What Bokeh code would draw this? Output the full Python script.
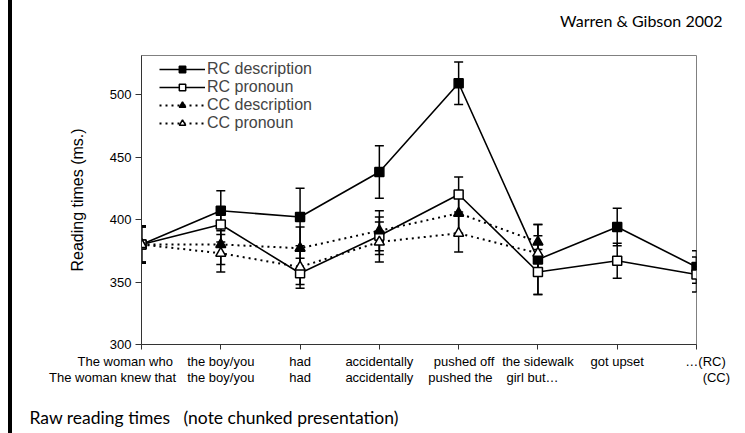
from bokeh.plotting import figure
from bokeh.models import (Range1d, FixedTicker, ColumnDataSource, Whisker, TeeHead,
                          Legend, LegendItem, Title)
from bokeh.embed import file_html
from bokeh.resources import INLINE

# ---- data ----
regions = list(range(8))
rc_labels = ["The woman who", "the boy/you", "had", "accidentally", "pushed off",
             "the sidewalk", "got upset", "\u2026(RC)"]
cc_labels = ["The woman knew that", "the boy/you", "had", "accidentally", "pushed the",
             "girl but\u2026", "", "(CC)"]

rc_desc = [380, 407, 402, 438, 509, 368, 394, 362]
rc_desc_err = [15, 16, 23, 21, 17, 28, 15, 13]
rc_pron = [380, 396, 357, 387, 420, 358, 367, 356]
rc_pron_err = [14, 14, 12, 15, 14, 18, 14, 14]
cc_desc = [380, 380, 377, 391, 405, 382]
cc_desc_err = [15, 16, 17, 16, 16, 14]
cc_pron = [380, 373, 362, 382, 389, 373]
cc_pron_err = [14, 15, 14, 16, 15, 14]

y_ticks = [300, 350, 400, 450, 500]

source_text = "Warren & Gibson 2002"
caption_text = "Raw reading times \u00a0\u00a0(note chunked presentation)"

# ---- styling ----
FONT = "Liberation Sans"
SLIDE_FONT = "Lato"
NB = "\u00a0"
# (leading, trailing) no-break-space padding used to nudge centred tick labels
pad_rc = [(0, 9), (0, 0), (0, 0), (0, 0), (3, 0), (0, 0), (0, 0), (5, 0)]
pad_cc = [(0, 16), (0, 0), (0, 0), (0, 0), (1, 0), (0, 3), (0, 0), (11, 0)]

p = figure(width=733, height=433, x_range=Range1d(0, 7), y_range=Range1d(300, 531.2),
           output_backend="svg", toolbar_location=None,
           min_border_left=129, min_border_right=49, min_border_top=55, min_border_bottom=89)
p.styles = {"margin-left": "12px", "box-shadow": "-4px 0 0 0 #000000"}
p.xgrid.visible = False
p.ygrid.visible = False
p.outline_line_color = "#808080"
p.outline_line_width = 1

p.xaxis.ticker = FixedTicker(ticks=regions)
overrides = {}
for i in regions:
    a, b = pad_rc[i]
    c, d = pad_cc[i]
    overrides[i] = NB * a + rc_labels[i] + NB * b + "\n" + NB * c + cc_labels[i] + NB * d
p.xaxis.major_label_overrides = overrides
p.xaxis.major_label_text_font = FONT
p.xaxis.major_label_text_font_size = "13px"
p.xaxis.major_label_text_color = "black"
p.xaxis.major_label_text_line_height = 1.1
p.xaxis.major_label_standoff = 4
p.xaxis.major_tick_out = 5
p.xaxis.major_tick_in = 0
p.xaxis.minor_tick_out = 0
p.xaxis.axis_line_color = "#333333"
p.xaxis.major_tick_line_color = "#333333"

p.yaxis.ticker = FixedTicker(ticks=y_ticks)
p.yaxis.major_tick_out = 6
p.yaxis.major_tick_in = 0
p.yaxis.minor_tick_out = 0
p.yaxis.axis_line_color = "#333333"
p.yaxis.major_tick_line_color = "#333333"
p.yaxis.major_label_text_font = FONT
p.yaxis.major_label_text_font_size = "13px"
p.yaxis.major_label_text_color = "black"
p.yaxis.major_label_standoff = 4
p.yaxis.axis_label = "Reading times (ms.)"
p.yaxis.axis_label_text_font = FONT
p.yaxis.axis_label_text_font_size = "16px"
p.yaxis.axis_label_text_font_style = "normal"
p.yaxis.axis_label_text_color = "black"
p.yaxis.axis_label_standoff = 21

series = [
    ("RC description", rc_desc, rc_desc_err, "square", "black", "solid"),
    ("RC pronoun", rc_pron, rc_pron_err, "square", "white", "solid"),
    ("CC description", cc_desc, cc_desc_err, "triangle", "black", "2 4"),
    ("CC pronoun", cc_pron, cc_pron_err, "triangle", "white", "2 4"),
]

items = []
for name, vals, errs, marker, fill, dash in series:
    xs = regions[:len(vals)]
    src = ColumnDataSource(dict(x=xs, y=vals,
                                upper=[v + e for v, e in zip(vals, errs)],
                                lower=[v - e for v, e in zip(vals, errs)]))
    w = Whisker(source=src, base="x", upper="upper", lower="lower",
                line_width=1.5, line_color="black",
                upper_head=TeeHead(size=9, line_width=1.5, line_color="black"),
                lower_head=TeeHead(size=9, line_width=1.5, line_color="black"))
    p.add_layout(w)
    ln = p.line("x", "y", source=src, line_color="black",
                line_width=1.6 if dash == "solid" else 2, line_dash=dash)
    sc = p.scatter("x", "y", source=src, marker=marker, size=9 if marker == "square" else 10,
                   fill_color=fill, line_color="black", line_width=1.5)
    items.append(LegendItem(label=name, renderers=[ln, sc]))

legend = Legend(items=items, location=(18, 212), margin=0, padding=0, spacing=0,
                glyph_width=46, glyph_height=16, label_height=16, label_standoff=2,
                label_text_font=FONT, label_text_font_size="16px",
                border_line_color=None, background_fill_alpha=0)
p.add_layout(legend)

# slide texts (source above, caption below); blank titles act as spacers
p.add_layout(Title(text=NB, text_font_size="12px", standoff=0), "above")
p.add_layout(Title(text=source_text, align="right", offset=-26, standoff=15,
                   vertical_align="top", text_font=SLIDE_FONT, text_font_size="16px",
                   text_font_style="normal", text_color="black"), "above")
p.add_layout(Title(text=NB, text_font_size="13px", standoff=0), "below")
p.add_layout(Title(text=caption_text, align="left",
                   offset=-112, standoff=0, vertical_align="middle", text_font=SLIDE_FONT,
                   text_font_size="17.5px", text_font_style="normal", text_color="black"),
             "below")

open("out.html", "w").write(file_html(p, INLINE))
